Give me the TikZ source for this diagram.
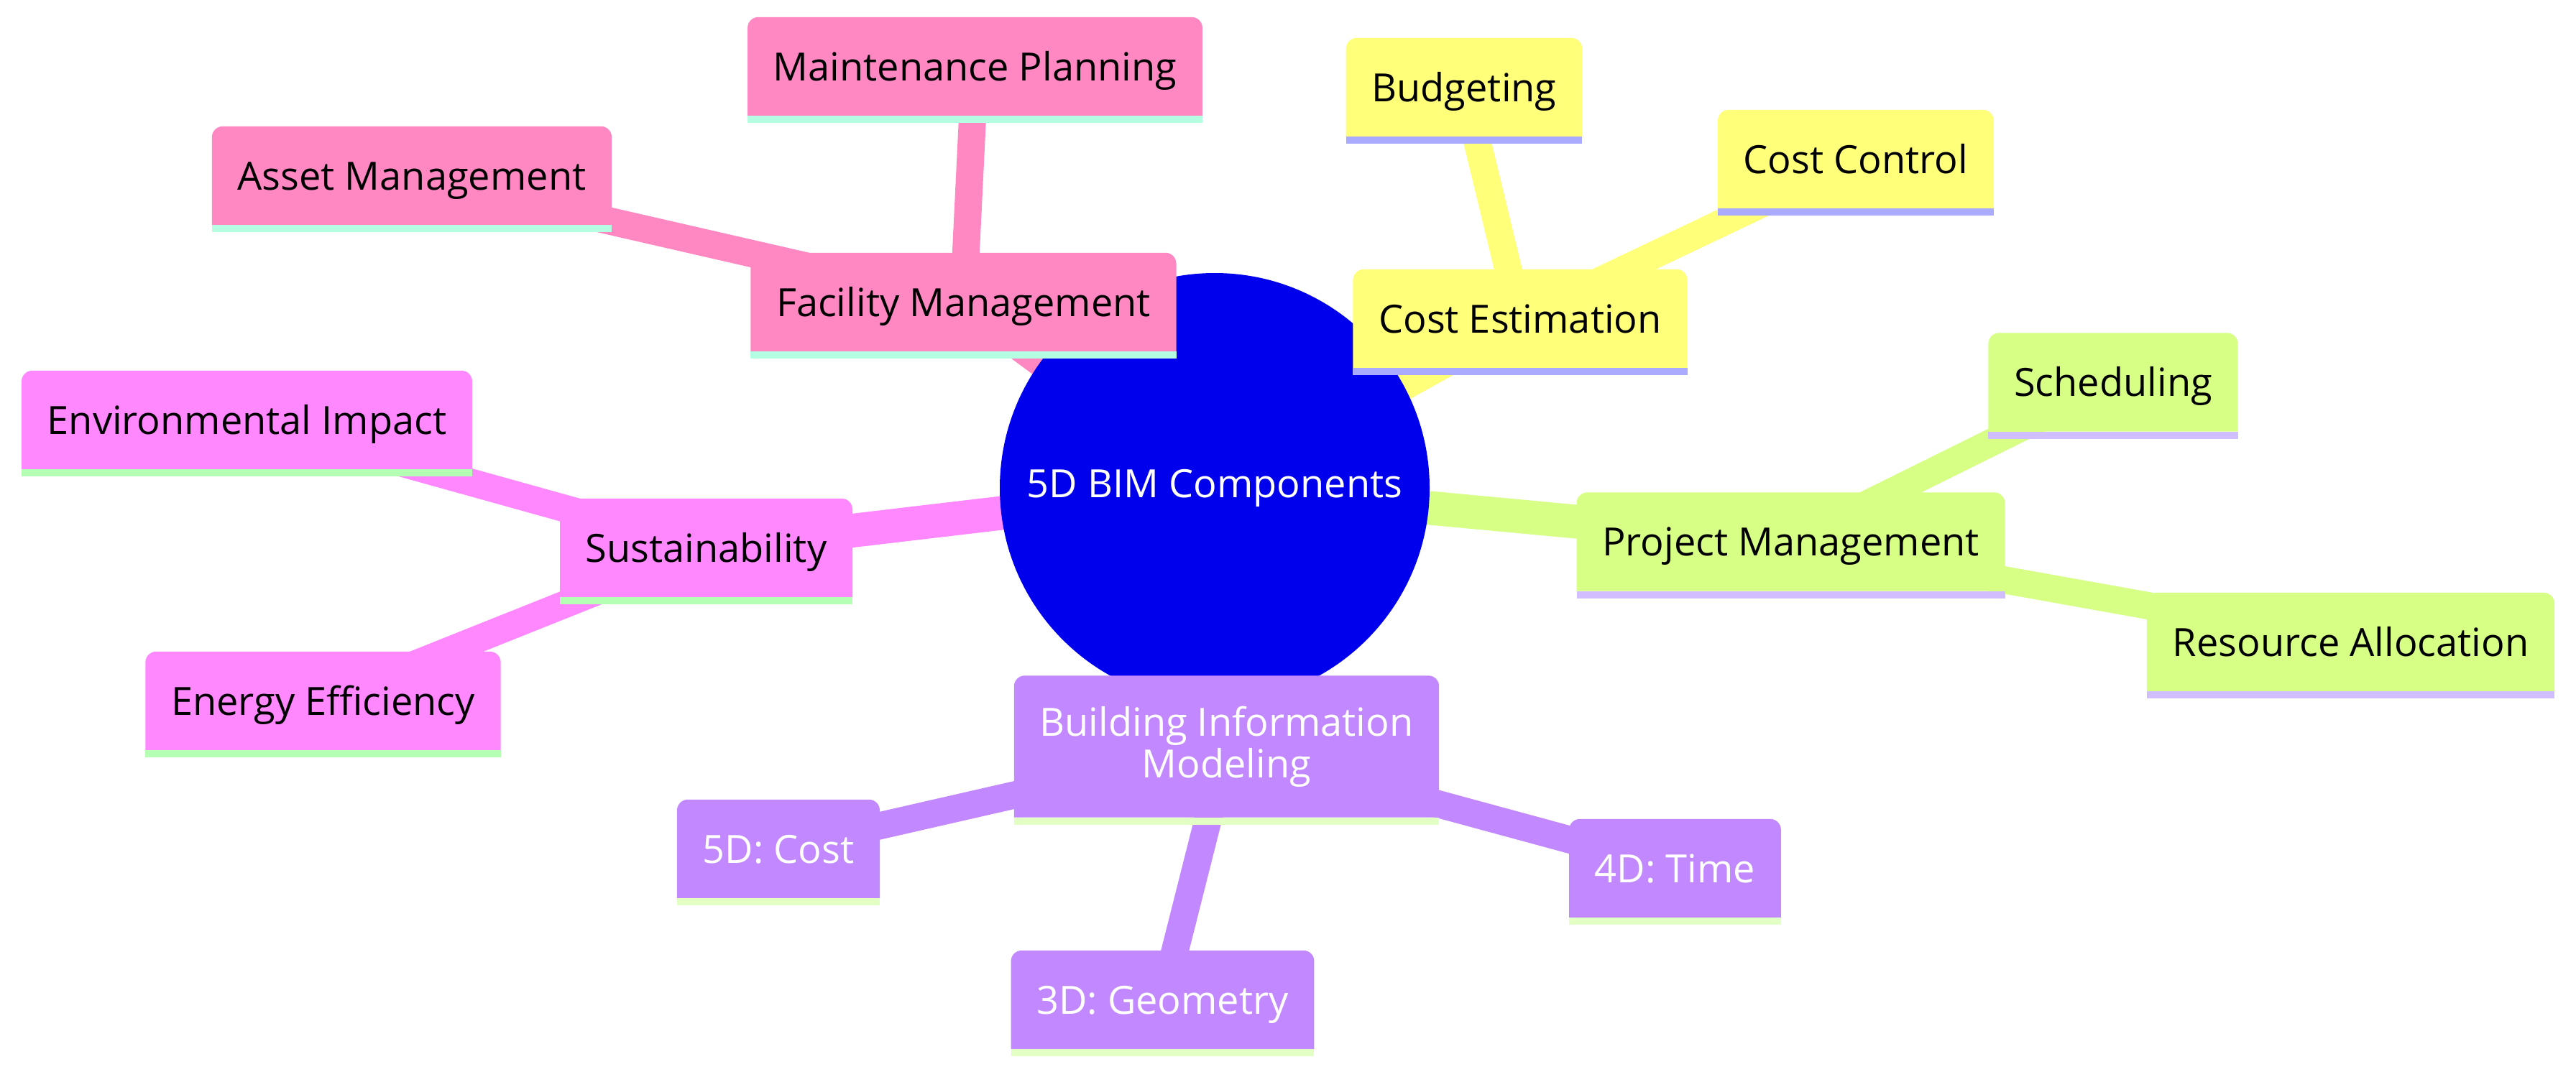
\documentclass[tikz,border=0pt]{standalone}
\usepackage{fontspec}
\setmainfont{Open Sans}
\usepackage{tikz}
\definecolor{rootblue}{RGB}{0,0,236}
\definecolor{facpink}{RGB}{255,136,195}
\definecolor{facline}{RGB}{180,255,225}
\definecolor{costyel}{RGB}{255,255,122}
\definecolor{costline}{RGB}{170,170,255}
\definecolor{pmgreen}{RGB}{215,255,133}
\definecolor{pmline}{RGB}{208,190,255}
\definecolor{bimpurple}{RGB}{194,136,255}
\definecolor{bimline}{RGB}{226,255,196}
\definecolor{susmag}{RGB}{255,136,255}
\definecolor{susline}{RGB}{180,255,180}
\pgfdeclarelayer{edges}
\pgfdeclarelayer{boxes}
\pgfsetlayers{edges,boxes,main}

\begin{document}
\begin{tikzpicture}[x=1cm,y=1cm,
  font=\fontsize{15.4}{16.6}\selectfont,
  mmtwo/.style={inner xsep=0.35cm, inner ysep=0pt, minimum height=1.36cm, align=center},
  mm/.style={mmtwo, text height=0.52cm, text depth=0.13cm},
  root edge/.style={line width=0.47cm},
  leaf edge/.style={line width=0.38cm}]
\useasboundingbox (0,0) rectangle (35.84,-14.92);
% centre
\node[circle, minimum size=5.98cm, text=white] (root) at (16.90,-6.79) {5D BIM Components};
% facility management
\node[mm] (fac) at (13.405,-4.205) {Facility Management};
\node[mm] (maint) at (13.565,-0.925) {Maintenance Planning};
\node[mm] (asset) at (5.73,-2.445) {Asset Management};
% cost estimation
\node[mm] (costest) at (21.15,-4.435) {Cost Estimation};
\node[mm] (budget) at (20.37,-1.215) {Budgeting};
\node[mm] (costctl) at (25.82,-2.215) {Cost Control};
% project management
\node[mm] (pm) at (24.915,-7.54) {Project Management};
\node[mm] (sched) at (29.40,-5.32) {Scheduling};
\node[mm] (res) at (32.705,-8.935) {Resource Allocation};
% building information modeling
\node[mmtwo, minimum height=1.96cm, text=white] (bim) at (17.065,-10.39) {Building Information\\Modeling};
\node[mm, text=white] (cost5) at (10.83,-11.815) {5D: Cost};
\node[mm, text=white] (time4) at (23.305,-12.085) {4D: Time};
\node[mm, text=white] (geo3) at (16.175,-13.915) {3D: Geometry};
% sustainability
\node[mm] (sust) at (9.825,-7.625) {Sustainability};
\node[mm] (env) at (3.435,-5.845) {Environmental Impact};
\node[mm] (energy) at (4.495,-9.755) {Energy Efficiency};

\begin{pgfonlayer}{edges}
\foreach \b/\col in {fac/facpink, costest/costyel, pm/pmgreen, bim/bimpurple, sust/susmag}
  \draw[root edge, color=\col] (root.center) -- (\b.center);
\foreach \a/\b/\col in {fac/maint/facpink, fac/asset/facpink, costest/budget/costyel, costest/costctl/costyel,
    pm/sched/pmgreen, pm/res/pmgreen, bim/cost5/bimpurple, bim/time4/bimpurple, bim/geo3/bimpurple,
    sust/env/susmag, sust/energy/susmag}
  \draw[leaf edge, color=\col] (\a.center) -- (\b.center);
\end{pgfonlayer}

\begin{pgfonlayer}{boxes}
\fill[rootblue] (root.center) circle (2.99);
\foreach \n/\fc/\lc in {fac/facpink/facline, maint/facpink/facline, asset/facpink/facline,
    costest/costyel/costline, budget/costyel/costline, costctl/costyel/costline,
    pm/pmgreen/pmline, sched/pmgreen/pmline, res/pmgreen/pmline,
    bim/bimpurple/bimline, cost5/bimpurple/bimline, time4/bimpurple/bimline, geo3/bimpurple/bimline,
    sust/susmag/susline, env/susmag/susline, energy/susmag/susline}{
  \fill[fill=\fc] (\n.south west) [rounded corners=0.15cm] -- (\n.north west) -- (\n.north east) [sharp corners] -- (\n.south east) -- cycle;
  \fill[fill=\lc] (\n.south west) rectangle ([yshift=-0.1cm]\n.south east);
}
\end{pgfonlayer}
\end{tikzpicture}
\end{document}
